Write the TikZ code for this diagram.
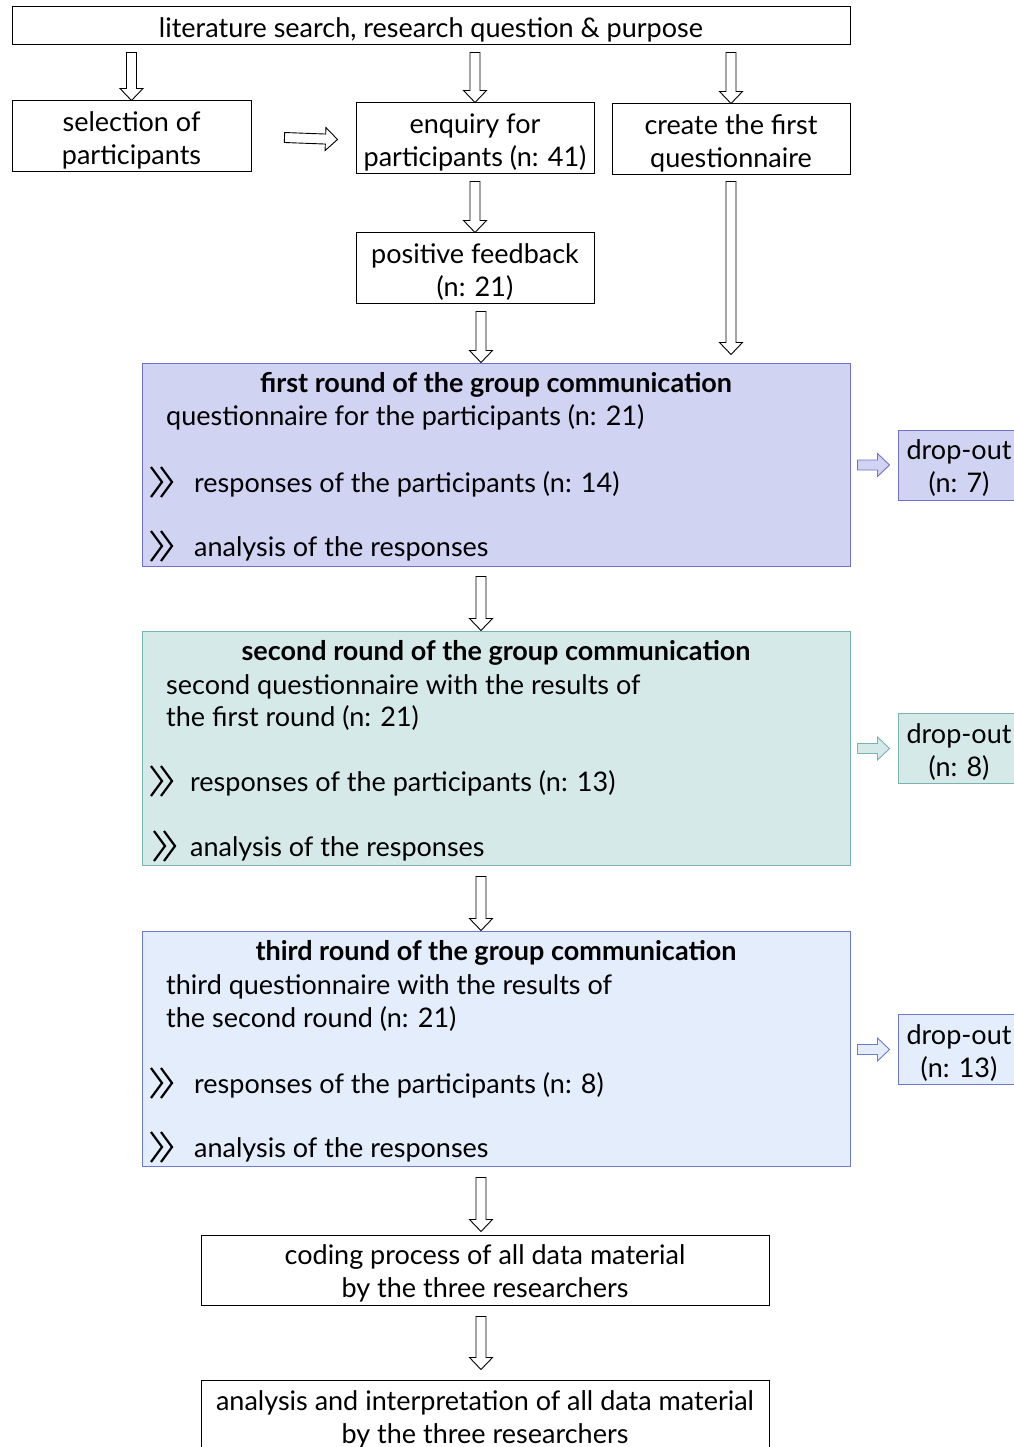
\documentclass[tikz,border=0pt]{standalone}
\usepackage{fontspec}
\setmainfont{Lato}
\usepackage{tikz}
\usetikzlibrary{arrows.meta,positioning,calc}

\definecolor{roundA}{RGB}{209,211,242}
\definecolor{roundAline}{RGB}{112,112,200}
\definecolor{roundB}{RGB}{214,233,233}
\definecolor{roundBline}{RGB}{122,178,180}
\definecolor{roundC}{RGB}{227,237,251}
\definecolor{roundCline}{RGB}{108,122,212}

\newcommand{\hollowarr}[3][draw=black,fill=white]{%
  \draw[#1,line width=0.9pt] let \p1=#2, \p2=#3,
    \n1={veclen(\x2-\x1,\y2-\y1)}, \n2={atan2(\y2-\y1,\x2-\x1)} in
    [shift={(\p1)},rotate=\n2]
    (0pt,5pt) -- ({(\n1-12)*1pt},5pt) -- ({(\n1-12)*1pt},11.5pt) -- ({\n1*1pt},0pt)
    -- ({(\n1-12)*1pt},-11.5pt) -- ({(\n1-12)*1pt},-5pt) -- (0pt,-5pt) -- cycle;}

\begin{document}
\begin{tikzpicture}[x=1pt,y=-1pt,
  every node/.style={font=\fontsize{27}{33}\selectfont},
  box/.style={draw,line width=1pt,align=center,inner sep=0pt,minimum width=238pt,minimum height=71pt,
    text height=60pt},
  round/.style={line width=1pt,minimum width=708pt},
  dbox/.style={line width=1pt,align=center,inner sep=0pt,minimum width=122pt,minimum height=70pt,
    text height=59pt},
  txt/.style={anchor=west,inner sep=0pt},
  head/.style={inner sep=0pt,font=\fontsize{27}{33}\selectfont\bfseries},
  chev/.pic={\draw[line width=2.2pt] (0,-15) -- (11,0) -- (0,15) (10,-15) -- (21,0) -- (10,15);}]
\useasboundingbox (0,0) rectangle (1013,1447);

\node (lit) [box,minimum width=838pt,minimum height=38pt,text height=27pt] at (431,26) {literature search, research question \& purpose};
\node (sel) [box,minimum width=239pt] at (131.5,136.5) {selection of\\participants};
\node (enq) [box] at (475,138.5) {enquiry for\\participants (n: 41)};
\node (qst) [box] at (731,139.5) {create the first\\questionnaire};
\node (fb) [box,minimum height=70pt] at (475,268) {positive feedback\\(n: 21)};

\node (r1) [round,fill=roundA,draw=roundAline,minimum height=203pt] at (496,464.5) {};
\node (r1h) [head] at (496,385) {first round of the group communication};
\node (r1a) [txt] at (166,417) {questionnaire for the participants (n: 21)};
\pic at (151,482) {chev};
\node (r1b) [txt] at (194,484) {responses of the participants (n: 14)};
\pic at (151,546) {chev};
\node (r1c) [txt] at (194,549) {analysis of the responses};
\node (d1) [dbox,fill=roundA,draw=roundAline] at (959,465) {drop-out\\(n: 7)};

\node (r2) [round,fill=roundB,draw=roundBline,minimum height=234pt] at (496,748) {};
\node (r2h) [head] at (496,653) {second round of the group communication};
\node (r2a) [txt] at (166,687) {second questionnaire with the results of};
\node (r2b) [txt] at (166,718) {the first round (n: 21)};
\pic at (151,781) {chev};
\node (r2c) [txt] at (190,783) {responses of the participants (n: 13)};
\pic at (154,846) {chev};
\node (r2d) [txt] at (190,849) {analysis of the responses};
\node (d2) [dbox,fill=roundB,draw=roundBline] at (959,748.5) {drop-out\\(n: 8)};

\node (r3) [round,fill=roundC,draw=roundCline,minimum height=235pt] at (496,1048.5) {};
\node (r3h) [head] at (496,953) {third round of the group communication};
\node (r3a) [txt] at (166,987) {third questionnaire with the results of};
\node (r3b) [txt] at (166,1019) {the second round (n: 21)};
\pic at (151,1083) {chev};
\node (r3c) [txt] at (194,1085) {responses of the participants (n: 8)};
\pic at (151,1147) {chev};
\node (r3d) [txt] at (194,1150) {analysis of the responses};
\node (d3) [dbox,fill=roundC,draw=roundCline] at (959,1049.5) {drop-out\\(n: 13)};

\node (code) [box,minimum width=568pt,minimum height=70pt] at (485,1270) {coding process of all data material\\by the three researchers};
\node (ana) [box,minimum width=568pt,minimum height=72pt] at (485,1416) {analysis and interpretation of all data material\\by the three researchers};

\hollowarr{($(lit.south -| sel.north)+(0,7)$)}{(sel.north)}
\hollowarr{($(lit.south -| enq.north)+(0,7)$)}{(enq.north)}
\hollowarr{($(lit.south -| qst.north)+(0,7)$)}{(qst.north)}
\hollowarr{($(sel.east)+(33,1)$)}{($(enq.west)+(-18,1)$)}
\hollowarr{($(enq.south)+(0,7)$)}{(fb.north)}
\hollowarr{($(fb.south)+(6,8)$)}{($(fb.south |- r1.north)+(6,0)$)}
\hollowarr{($(qst.south)+(0,6)$)}{($(qst.south |- r1.north)+(0,-8)$)}
\hollowarr{($(r1.south -| fb.south)+(6,10)$)}{($(r2.north -| fb.south)+(6,0)$)}
\hollowarr{($(r2.south -| fb.south)+(6,11)$)}{($(r3.north -| fb.south)+(6,0)$)}
\hollowarr{($(r3.south -| code.north)+(-4,11)$)}{($(code.north)+(-4,-3)$)}
\hollowarr{($(code.south)+(-4,11)$)}{($(ana.north)+(-4,-10)$)}
\hollowarr[draw=roundAline,fill=roundA]{($(r1.east |- d1.west)+(7,0)$)}{($(d1.west)+(-8,0)$)}
\hollowarr[draw=roundBline,fill=roundB]{($(r2.east |- d2.west)+(7,0)$)}{($(d2.west)+(-8,0)$)}
\hollowarr[draw=roundCline,fill=roundC]{($(r3.east |- d3.west)+(7,0)$)}{($(d3.west)+(-8,0)$)}
\end{tikzpicture}
\end{document}
